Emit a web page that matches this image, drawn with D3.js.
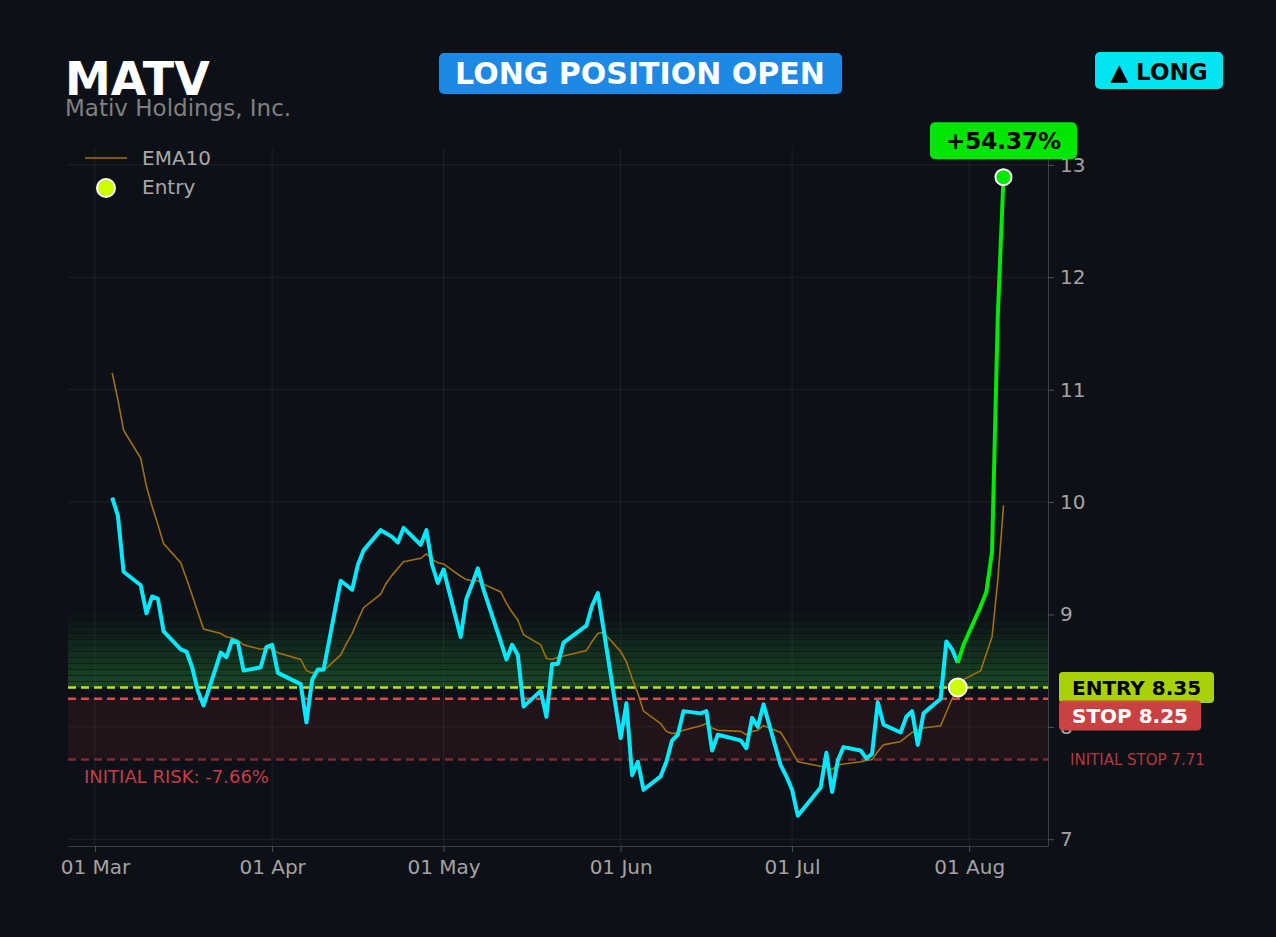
<!DOCTYPE html>
<html>
<head>
<meta charset="utf-8">
<script src="https://cdn.jsdelivr.net/npm/d3@7"></script>
<style>
  html, body { margin: 0; padding: 0; background: #0d1017; }
  svg { display: block; font-family: "DejaVu Sans", sans-serif; }
</style>
</head>
<body>
<div id="container"></div>
<script>
// trading days shown on the chart
var dates = [
  "2026-03-04","2026-03-05","2026-03-06","2026-03-09","2026-03-10","2026-03-11","2026-03-12","2026-03-13",
  "2026-03-16","2026-03-17","2026-03-18","2026-03-19","2026-03-20","2026-03-23","2026-03-24","2026-03-25",
  "2026-03-26","2026-03-27","2026-03-30","2026-03-31","2026-04-01","2026-04-02","2026-04-06","2026-04-07",
  "2026-04-08","2026-04-09","2026-04-10","2026-04-13","2026-04-14","2026-04-15","2026-04-16","2026-04-17",
  "2026-04-20","2026-04-21","2026-04-22","2026-04-23","2026-04-24","2026-04-27","2026-04-28","2026-04-29",
  "2026-04-30","2026-05-01","2026-05-04","2026-05-05","2026-05-06","2026-05-07","2026-05-08","2026-05-11",
  "2026-05-12","2026-05-13","2026-05-14","2026-05-15","2026-05-18","2026-05-19","2026-05-20","2026-05-21",
  "2026-05-22","2026-05-26","2026-05-27","2026-05-28","2026-05-29","2026-06-01","2026-06-02","2026-06-03",
  "2026-06-04","2026-06-05","2026-06-08","2026-06-09","2026-06-10","2026-06-11","2026-06-12","2026-06-15",
  "2026-06-16","2026-06-17","2026-06-18","2026-06-22","2026-06-23","2026-06-24","2026-06-25","2026-06-26",
  "2026-06-29","2026-06-30","2026-07-01","2026-07-02","2026-07-06","2026-07-07","2026-07-08","2026-07-09",
  "2026-07-10","2026-07-13","2026-07-14","2026-07-15","2026-07-16","2026-07-17","2026-07-20","2026-07-21",
  "2026-07-22","2026-07-23","2026-07-24","2026-07-27","2026-07-28","2026-07-29","2026-07-30","2026-07-31",
  "2026-08-03","2026-08-04","2026-08-05","2026-08-06","2026-08-07"
];

var closes = [
  10.04, 9.88, 9.38, 9.26, 9.01, 9.16, 9.14, 8.85,
  8.69, 8.67, 8.53, 8.32, 8.19, 8.66, 8.62, 8.77,
  8.75, 8.50, 8.53, 8.71, 8.73, 8.48, 8.38, 8.04,
  8.42, 8.51, 8.51, 9.30, 9.26, 9.22, 9.44, 9.57,
  9.75, 9.72, 9.69, 9.64, 9.77, 9.62, 9.75, 9.44,
  9.28, 9.40, 8.80, 9.14, 9.27, 9.41, 9.22, 8.76,
  8.60, 8.73, 8.64, 8.18, 8.32, 8.09, 8.56, 8.56,
  8.75, 8.90, 9.08, 9.19, 8.87, 7.90, 8.21, 7.57,
  7.69, 7.44, 7.56, 7.69, 7.88, 7.93, 8.14, 8.12,
  8.14, 7.79, 7.93, 7.88, 7.81, 8.08, 8.00, 8.20,
  7.66, 7.56, 7.44, 7.21, 7.46, 7.77, 7.42, 7.70,
  7.82, 7.79, 7.72, 7.76, 8.22, 8.02, 7.95, 8.09,
  8.14, 7.84, 8.12, 8.25, 8.76, 8.69, 8.57, 8.73,
  9.07, 9.20, 9.56, 11.65, 12.89
];

var ema10 = [
  11.15, 10.91, 10.64, 10.39, 10.14, 9.96, 9.80, 9.63,
  9.46, 9.32, 9.17, 9.02, 8.87, 8.83, 8.80, 8.79,
  8.77, 8.73, 8.69, 8.70, 8.69, 8.66, 8.60, 8.50,
  8.48, 8.49, 8.50, 8.64, 8.74, 8.83, 8.95, 9.06,
  9.18, 9.28, 9.35, 9.41, 9.47, 9.50, 9.54, 9.49,
  9.46, 9.45, 9.34, 9.31, 9.30, 9.30, 9.27, 9.20,
  9.10, 9.02, 8.95, 8.82, 8.73, 8.61, 8.60, 8.62,
  8.63, 8.68, 8.76, 8.83, 8.84, 8.67, 8.58, 8.43,
  8.30, 8.14, 8.03, 7.96, 7.94, 7.95, 7.97, 8.01,
  8.03, 7.99, 7.97, 7.96, 7.93, 7.96, 7.97, 8.01,
  7.95, 7.87, 7.78, 7.69, 7.65, 7.64, 7.62, 7.66,
  7.67, 7.69, 7.70, 7.71, 7.78, 7.84, 7.87, 7.91,
  7.95, 7.97, 7.99, 8.01, 8.13, 8.25, 8.35, 8.42,
  8.50, 8.65, 8.80, 9.30, 9.97
];

var yTicks = [7, 8, 9, 10, 11, 12, 13];

var ticker = "MATV";
var companyName = "Mativ Holdings, Inc.";
var entryDate = "2026-07-30";
var entryPrice = 8.35;
var stopPrice = 8.25;
var initialStop = 7.71;
var zoneTop = 9.0;

var svgWidth = 1276;
var svgHeight = 937;

var margin = {
  top: 148,
  right: 228,
  bottom: 91,
  left: 68
};

var width = svgWidth - margin.left - margin.right;
var height = svgHeight - margin.top - margin.bottom;

var parseDate = d3.utcParse("%Y-%m-%d");

var data = dates.map(function(d, i) {
  return { date: parseDate(d), close: closes[i], ema: ema10[i] };
});

var entryTime = parseDate(entryDate);
var before = data.filter(d => d.date <= entryTime);
var after = data.filter(d => d.date >= entryTime);
var last = data[data.length - 1];

var svg = d3.select("#container")
  .append("svg")
  .attr("width", svgWidth)
  .attr("height", svgHeight);

svg.append("rect")
  .attr("width", svgWidth)
  .attr("height", svgHeight)
  .attr("fill", "#0d1017");

var chart = svg.append("g")
  .attr("transform", `translate(${margin.left}, ${margin.top})`);

var x = d3.scaleUtc()
  .domain([new Date(Date.UTC(2026, 1, 24, 6, 30)), new Date(Date.UTC(2026, 7, 14, 19, 0))])
  .range([0, width]);

var y = d3.scaleLinear()
  .domain([6.94, 13.15])
  .range([height, 0]);

var monthTicks = x.ticks(d3.utcMonth.every(1));

// grid
chart.append("g")
  .selectAll("line")
  .data(yTicks)
  .enter()
  .append("line")
  .attr("x1", 0)
  .attr("x2", width)
  .attr("y1", d => y(d))
  .attr("y2", d => y(d))
  .attr("stroke", "#ffffff")
  .attr("stroke-opacity", 0.07);

chart.append("g")
  .selectAll("line")
  .data(monthTicks)
  .enter()
  .append("line")
  .attr("x1", d => x(d))
  .attr("x2", d => x(d))
  .attr("y1", 0)
  .attr("y2", height)
  .attr("stroke", "#ffffff")
  .attr("stroke-opacity", 0.07);

// risk zone
chart.append("rect")
  .attr("x", 0)
  .attr("width", width)
  .attr("y", y(stopPrice))
  .attr("height", y(initialStop) - y(stopPrice))
  .attr("fill", "#e53935")
  .attr("fill-opacity", 0.09);

// profit zone, banded
var nBands = 12;
var step = (zoneTop - entryPrice) / nBands;
var bands = d3.range(nBands).map(i => entryPrice + i * step);

chart.append("g")
  .selectAll("rect")
  .data(bands)
  .enter()
  .append("rect")
  .attr("x", 0)
  .attr("width", width)
  .attr("y", d => y(d + step))
  .attr("height", d => y(d) - y(d + step))
  .attr("fill", "#2a9a38")
  .attr("fill-opacity", (d, i) => 0.03 + 0.36 * (nBands - 1 - i) / (nBands - 1));

chart.append("g")
  .selectAll("line")
  .data(bands.slice(1).concat([zoneTop]))
  .enter()
  .append("line")
  .attr("x1", 0)
  .attr("x2", width)
  .attr("y1", d => Math.round(y(d)) + 0.5)
  .attr("y2", d => Math.round(y(d)) + 0.5)
  .attr("stroke", "#0b0f14")
  .attr("stroke-opacity", 0.55);

// level lines
var levels = [
  { v: initialStop, color: "#7e2a31" },
  { v: stopPrice, color: "#e04848" },
  { v: entryPrice, color: "#c8e000" }
];

chart.append("g")
  .selectAll("line")
  .data(levels)
  .enter()
  .append("line")
  .attr("x1", 0)
  .attr("x2", width)
  .attr("y1", d => y(d.v))
  .attr("y2", d => y(d.v))
  .attr("stroke", d => d.color)
  .attr("stroke-width", 2.5)
  .attr("stroke-dasharray", "8,5");

// EMA
var emaLine = d3.line()
  .x(d => x(d.date))
  .y(d => y(d.ema));

chart.append("path")
  .datum(data)
  .attr("d", emaLine)
  .attr("fill", "none")
  .attr("stroke", "#a0700f")
  .attr("stroke-width", 1.6);

// price
var priceLine = d3.line()
  .x(d => x(d.date))
  .y(d => y(d.close));

chart.append("path")
  .datum(before)
  .attr("d", priceLine)
  .attr("fill", "none")
  .attr("stroke", "#00eaff")
  .attr("stroke-width", 4)
  .attr("stroke-linejoin", "round");

chart.append("path")
  .datum(after)
  .attr("d", priceLine)
  .attr("fill", "none")
  .attr("stroke", "#00ea00")
  .attr("stroke-width", 4)
  .attr("stroke-linejoin", "round");

chart.append("circle")
  .attr("cx", x(entryTime))
  .attr("cy", y(entryPrice))
  .attr("r", 9)
  .attr("fill", "#ccff00")
  .attr("stroke", "#ffffff")
  .attr("stroke-width", 2);

chart.append("circle")
  .attr("cx", x(last.date))
  .attr("cy", y(last.close))
  .attr("r", 8)
  .attr("fill", "#00ea00")
  .attr("stroke", "#ffffff")
  .attr("stroke-width", 2);

// axes
var bottomAxis = d3.axisBottom(x)
  .tickValues(monthTicks)
  .tickFormat(d3.utcFormat("%d %b"))
  .tickSize(6)
  .tickSizeOuter(0)
  .tickPadding(8);

var rightAxis = d3.axisRight(y)
  .tickValues(yTicks)
  .tickFormat(d3.format("d"))
  .tickSize(6)
  .tickSizeOuter(0)
  .tickPadding(6);

var gx = chart.append("g")
  .attr("transform", `translate(0, ${height})`)
  .call(bottomAxis);

var gy = chart.append("g")
  .attr("transform", `translate(${width}, 0)`)
  .call(rightAxis);

[gx, gy].forEach(function(g) {
  g.select(".domain").attr("stroke", "#3a3e46");
  g.selectAll(".tick line").attr("stroke", "#50545c");
  g.selectAll(".tick text")
    .attr("fill", "#a3a3a3")
    .style("font-size", "20px")
    .style("font-family", "DejaVu Sans");
});

// level labels
var eY = y(entryPrice);
var entryBox = chart.append("g").attr("transform", `translate(${width + 11}, ${eY - 15.5})`);
entryBox.append("rect")
  .attr("width", 155).attr("height", 31).attr("rx", 4)
  .attr("fill", "#a8d108");
entryBox.append("text")
  .attr("x", 13).attr("y", 22.5)
  .attr("fill", "#000")
  .style("font-size", "20px").style("font-weight", "bold")
  .text("ENTRY " + entryPrice.toFixed(2));

var stopBox = chart.append("g").attr("transform", `translate(${width + 11}, ${eY + 13})`);
stopBox.append("rect")
  .attr("width", 142).attr("height", 30).attr("rx", 4)
  .attr("fill", "#d04444")
  .attr("fill-opacity", 0.97);
stopBox.append("text")
  .attr("x", 13).attr("y", 22.5)
  .attr("fill", "#fff")
  .style("font-size", "20px").style("font-weight", "bold")
  .text("STOP " + stopPrice.toFixed(2));

chart.append("text")
  .attr("x", width + 22)
  .attr("y", y(initialStop) + 6)
  .attr("fill", "#b13a41")
  .style("font-size", "15px")
  .text("INITIAL STOP " + initialStop.toFixed(2));

var risk = (initialStop - entryPrice) / entryPrice * 100;
chart.append("text")
  .attr("x", 16)
  .attr("y", y(initialStop) + 24)
  .attr("fill", "#c63d45")
  .style("font-size", "18px")
  .text("INITIAL RISK: " + risk.toFixed(2) + "%");

// gain badge
var gain = (last.close - entryPrice) / entryPrice * 100;
var gx0 = x(last.date);
var gy0 = y(last.close) - 18;
var gainBox = chart.append("g").attr("transform", `translate(${gx0}, ${gy0})`);
gainBox.append("rect")
  .attr("x", -73.5).attr("y", -37).attr("width", 147).attr("height", 37).attr("rx", 5)
  .attr("fill", "#00e600");
gainBox.append("text")
  .attr("x", 0).attr("y", -10)
  .attr("text-anchor", "middle")
  .attr("fill", "#000")
  .style("font-size", "23px").style("font-weight", "bold")
  .text("+" + gain.toFixed(2) + "%");

// legend
var legend = svg.append("g");
legend.append("line")
  .attr("x1", 85).attr("x2", 127).attr("y1", 158).attr("y2", 158)
  .attr("stroke", "#a0700f").attr("stroke-width", 1.6);
legend.append("text")
  .attr("x", 142).attr("y", 165)
  .attr("fill", "#a8a8a8").style("font-size", "20px")
  .text("EMA10");
legend.append("circle")
  .attr("cx", 106).attr("cy", 188).attr("r", 9)
  .attr("fill", "#ccff00").attr("stroke", "#fff").attr("stroke-width", 2);
legend.append("text")
  .attr("x", 142).attr("y", 194)
  .attr("fill", "#a8a8a8").style("font-size", "20px")
  .text("Entry");

// header
svg.append("text")
  .attr("x", 65).attr("y", 95)
  .attr("fill", "#fff")
  .style("font-size", "46px").style("font-weight", "bold")
  .text(ticker);

svg.append("text")
  .attr("x", 65).attr("y", 116)
  .attr("fill", "#808080")
  .style("font-size", "23px")
  .text(companyName);

svg.append("rect")
  .attr("x", 439).attr("y", 53).attr("width", 403).attr("height", 41).attr("rx", 5)
  .attr("fill", "#1e88e5");
svg.append("text")
  .attr("x", 640).attr("y", 84)
  .attr("text-anchor", "middle")
  .attr("fill", "#fff")
  .style("font-size", "30px").style("font-weight", "bold")
  .text("LONG POSITION OPEN");

svg.append("rect")
  .attr("x", 1095).attr("y", 52).attr("width", 128).attr("height", 37).attr("rx", 5)
  .attr("fill", "#00e5f0");
svg.append("text")
  .attr("x", 1159).attr("y", 80)
  .attr("text-anchor", "middle")
  .attr("fill", "#000")
  .style("font-size", "23px").style("font-weight", "bold")
  .text("\u25B2 LONG");
</script>
</body>
</html>
